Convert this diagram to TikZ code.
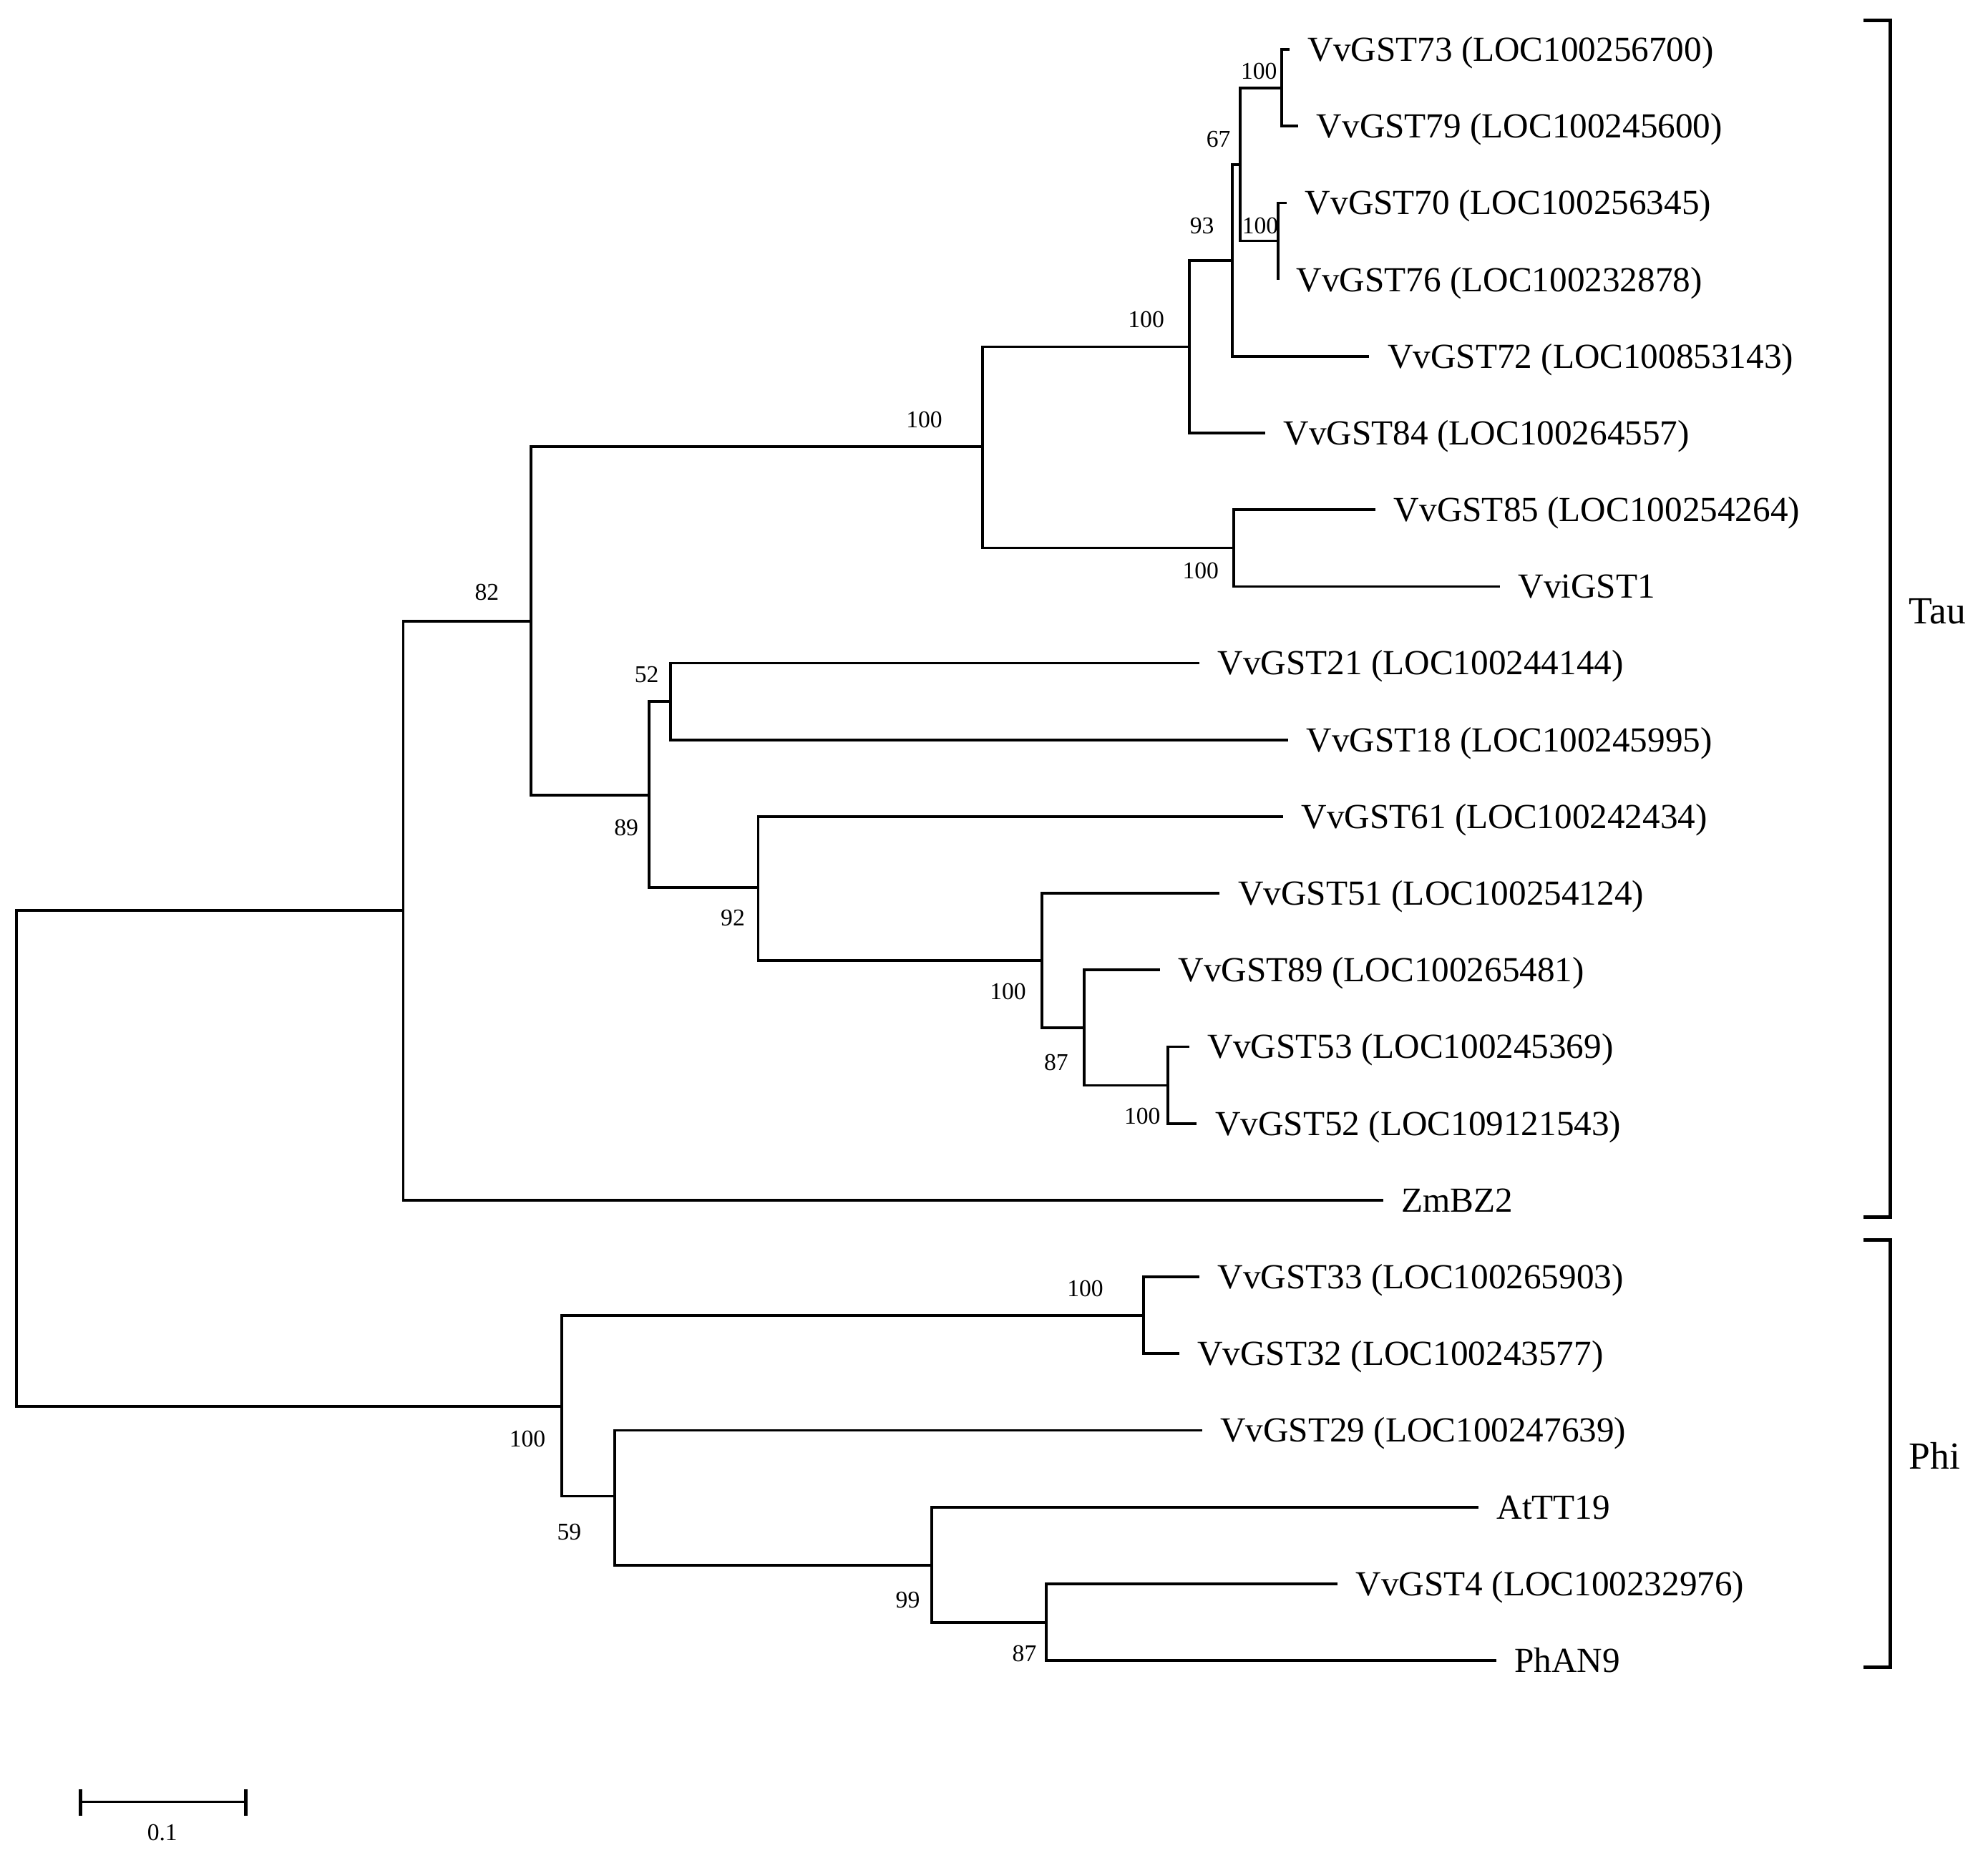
\documentclass[tikz,border=0pt]{standalone}
\usepackage{fontspec}
\setmainfont{Liberation Serif}

\tikzset{
  branch/.style={line width=0.6pt},
  taxon/.style={anchor=west,inner sep=0pt,outer xsep=1.45mm,text height=1.85mm,text depth=0pt,font=\fontsize{7.9}{9}\selectfont},
  boot/.style={inner sep=0pt,font=\fontsize{5.4}{6}\selectfont},
  clade/.style={line width=0.8pt},
  cladename/.style={anchor=west,inner sep=0pt,font=\fontsize{8.6}{10}\selectfont},
}

\begin{document}
\begin{tikzpicture}[x=0.1mm,y=-0.1mm]
        \useasboundingbox (0,0) rectangle (1568,1465);
        \coordinate (root) at (13,913.5);
        \coordinate (tau) at (318,718);
        \coordinate (n82) at (419,490);
        \coordinate (n100a) at (775,352);
        \coordinate (n100b) at (938,273.5);
        \coordinate (n93) at (972,205.5);
        \coordinate (n67) at (978,130);
        \coordinate (n100d) at (1011,69.5);
        \coordinate (n100e) at (1008,190);
        \coordinate (n100c) at (973,432);
        \coordinate (n89) at (512,627);
        \coordinate (n52) at (529,553);
        \coordinate (n92) at (598,700);
        \coordinate (n100f) at (822,757.5);
        \coordinate (n87a) at (855,810.5);
        \coordinate (n100g) at (921,856);
        \coordinate (phi) at (443,1109);
        \coordinate (n100h) at (902,1037.5);
        \coordinate (n59) at (485,1180);
        \coordinate (n99) at (735,1234.5);
        \coordinate (n87b) at (825,1279.5);
        \node[taxon] (gst73) at (1017,39) {VvGST73 (LOC100256700)};
        \node[taxon] (gst79) at (1024,99.5) {VvGST79 (LOC100245600)};
        \node[taxon] (gst70) at (1015,160) {VvGST70 (LOC100256345)};
        \node[taxon] (gst76) at (1008,220.5) {VvGST76 (LOC100232878)};
        \node[taxon] (gst72) at (1080,281) {VvGST72 (LOC100853143)};
        \node[taxon] (gst84) at (998,341.5) {VvGST84 (LOC100264557)};
        \node[taxon] (gst85) at (1085,402) {VvGST85 (LOC100254264)};
        \node[taxon] (vvigst1) at (1183,462.5) {VviGST1};
        \node[taxon] (gst21) at (946,523) {VvGST21 (LOC100244144)};
        \node[taxon] (gst18) at (1016,583.5) {VvGST18 (LOC100245995)};
        \node[taxon] (gst61) at (1012,644) {VvGST61 (LOC100242434)};
        \node[taxon] (gst51) at (962,704.5) {VvGST51 (LOC100254124)};
        \node[taxon] (gst89) at (915,765) {VvGST89 (LOC100265481)};
        \node[taxon] (gst53) at (938,825.5) {VvGST53 (LOC100245369)};
        \node[taxon] (gst52) at (944,886) {VvGST52 (LOC109121543)};
        \node[taxon] (zmbz2) at (1091,946.5) {ZmBZ2};
        \node[taxon] (gst33) at (946,1007) {VvGST33 (LOC100265903)};
        \node[taxon] (gst32) at (930,1067.5) {VvGST32 (LOC100243577)};
        \node[taxon] (gst29) at (948,1128) {VvGST29 (LOC100247639)};
        \node[taxon] (attt19) at (1166,1188.5) {AtTT19};
        \node[taxon] (gst4) at (1055,1249) {VvGST4 (LOC100232976)};
        \node[taxon] (phan9) at (1180,1309.5) {PhAN9};
        \draw[branch] (root) |- (tau) (root) |- (phi);
        \draw[branch] (tau) |- (n82) (tau) |- (zmbz2.west);
        \draw[branch] (n82) |- (n100a) (n82) |- (n89);
        \draw[branch] (n100a) |- (n100b) (n100a) |- (n100c);
        \draw[branch] (n100b) |- (n93) (n100b) |- (gst84.west);
        \draw[branch] (n93) |- (n67) (n93) |- (gst72.west);
        \draw[branch] (n67) |- (n100d) (n67) |- (n100e);
        \draw[branch] (n100d) |- (gst73.west) (n100d) |- (gst79.west);
        \draw[branch] (n100e) |- (gst70.west) (n100e) |- (gst76.west);
        \draw[branch] (n100c) |- (gst85.west) (n100c) |- (vvigst1.west);
        \draw[branch] (n89) |- (n52) (n89) |- (n92);
        \draw[branch] (n52) |- (gst21.west) (n52) |- (gst18.west);
        \draw[branch] (n92) |- (gst61.west) (n92) |- (n100f);
        \draw[branch] (n100f) |- (gst51.west) (n100f) |- (n87a);
        \draw[branch] (n87a) |- (gst89.west) (n87a) |- (n100g);
        \draw[branch] (n100g) |- (gst53.west) (n100g) |- (gst52.west);
        \draw[branch] (phi) |- (n100h) (phi) |- (n59);
        \draw[branch] (n100h) |- (gst33.west) (n100h) |- (gst32.west);
        \draw[branch] (n59) |- (gst29.west) (n59) |- (n99);
        \draw[branch] (n99) |- (attt19.west) (n99) |- (n87b);
        \draw[branch] (n87b) |- (gst4.west) (n87b) |- (phan9.west);
        \node[boot] (b100d) at (993,56) {100};
        \node[boot] (b67) at (961,110) {67};
        \node[boot] (b100e) at (994,178) {100};
        \node[boot] (b93) at (948,178) {93};
        \node[boot] (b100b) at (904,252) {100};
        \node[boot] (b100a) at (729,331) {100};
        \node[boot] (b100c) at (947,450) {100};
        \node[boot] (b82) at (384,467) {82};
        \node[boot] (b52) at (510,532) {52};
        \node[boot] (b89) at (494,653) {89};
        \node[boot] (b92) at (578,724) {92};
        \node[boot] (b100f) at (795,782) {100};
        \node[boot] (b87a) at (833,838) {87};
        \node[boot] (b100g) at (901,880) {100};
        \node[boot] (b100h) at (856,1016) {100};
        \node[boot] (bphi) at (416,1135) {100};
        \node[boot] (b59) at (449,1208) {59};
        \node[boot] (b99) at (716,1262) {99};
        \node[boot] (b87b) at (808,1304) {87};
        \draw[clade] (1470,16) -- (1491,16) -- (1491,960) -- (1470,960);
        \node[cladename] (taulab) at (1505,482) {Tau};
        \draw[clade] (1470,978) -- (1491,978) -- (1491,1315) -- (1470,1315);
        \node[cladename] (philab) at (1505,1148) {Phi};
        \coordinate (sbl) at (63.5,1421);
        \coordinate (sbr) at (194,1421);
        \draw[branch] (sbl) -- (sbr);
        \draw[clade] ([yshift=1mm]sbl) -- ([yshift=-1.1mm]sbl) ([yshift=1mm]sbr) -- ([yshift=-1.1mm]sbr);
        \node[boot] (sblab) at (128,1445) {0.1};
\end{tikzpicture}
\end{document}
